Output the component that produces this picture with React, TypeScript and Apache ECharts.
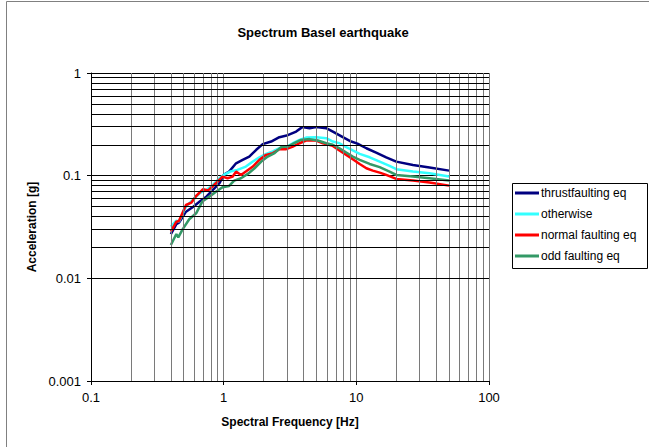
import React, { useEffect, useRef } from "react";
import * as echarts from "echarts";

const thrustFreq = [0.4, 0.44, 0.46, 0.52, 0.59, 0.66, 0.74, 0.83, 0.93, 1.0, 1.1, 1.24, 1.39, 1.56, 1.76, 1.97, 2.28, 2.63, 3.04, 3.52, 3.91, 4.44, 4.98, 5.93, 6.65, 7.91, 9.14, 10.2, 11.9, 14.1, 16.8, 20, 26.7, 35.6, 50];
const thrustAcc = [0.027, 0.0338, 0.0348, 0.0446, 0.0499, 0.0559, 0.0625, 0.0726, 0.0844, 0.1017, 0.1096, 0.132, 0.1425, 0.1536, 0.1786, 0.2027, 0.215, 0.237, 0.248, 0.269, 0.297, 0.29, 0.297, 0.29, 0.269, 0.237, 0.215, 0.205, 0.185, 0.168, 0.151, 0.137, 0.127, 0.12, 0.112];

const otherFreq = [0.4, 0.44, 0.46, 0.52, 0.59, 0.66, 0.74, 0.83, 0.93, 1.0, 1.12, 1.27, 1.47, 1.66, 1.86, 2.09, 2.35, 2.63, 2.96, 3.32, 3.73, 4.18, 4.98, 5.93, 6.65, 7.46, 8.4, 9.4, 10.6, 12.6, 15, 17.8, 20, 26.7, 35.6, 50];
const otherAcc = [0.0319, 0.0365, 0.0356, 0.05, 0.0589, 0.0674, 0.0726, 0.0813, 0.0944, 0.1017, 0.1096, 0.1138, 0.1227, 0.1374, 0.151, 0.163, 0.172, 0.185, 0.19, 0.207, 0.223, 0.235, 0.237, 0.232, 0.215, 0.207, 0.19, 0.176, 0.163, 0.151, 0.137, 0.1245, 0.1156, 0.1096, 0.1057, 0.098];

const normalFreq = [0.4, 0.44, 0.46, 0.52, 0.57, 0.62, 0.7, 0.76, 0.83, 0.9, 0.98, 1.07, 1.17, 1.24, 1.35, 1.47, 1.66, 1.86, 2.09, 2.35, 2.63, 2.96, 3.32, 3.73, 4.18, 4.98, 5.6, 6.65, 7.46, 8.4, 9.4, 10.6, 11.9, 13.3, 15, 16.8, 20, 26.7, 35.6, 50];
const normalAcc = [0.0285, 0.0356, 0.0362, 0.0518, 0.0546, 0.0634, 0.0738, 0.0716, 0.0794, 0.0875, 0.098, 0.0944, 0.098, 0.1096, 0.1017, 0.1096, 0.1227, 0.1425, 0.1595, 0.1656, 0.181, 0.181, 0.192, 0.207, 0.22, 0.22, 0.207, 0.195, 0.176, 0.1595, 0.1446, 0.13, 0.118, 0.112, 0.107, 0.1017, 0.093, 0.0896, 0.0857, 0.08];

const oddFreq = [0.4, 0.44, 0.455, 0.49, 0.55, 0.62, 0.69, 0.78, 0.88, 0.98, 1.1, 1.2, 1.35, 1.52, 1.71, 1.92, 2.15, 2.42, 2.71, 3.04, 3.41, 3.83, 4.44, 5.13, 5.93, 6.65, 7.46, 8.4, 9.4, 10.6, 12.6, 15, 17.8, 20, 26.7, 35.6, 50];
const oddAcc = [0.0211, 0.027, 0.0251, 0.03, 0.0376, 0.043, 0.0559, 0.0625, 0.07, 0.077, 0.0794, 0.0896, 0.0944, 0.104, 0.118, 0.137, 0.1536, 0.1656, 0.19, 0.192, 0.207, 0.223, 0.227, 0.22, 0.207, 0.2, 0.185, 0.168, 0.1536, 0.1425, 0.13, 0.121, 0.1096, 0.1017, 0.098, 0.0944, 0.0896];

const seriesNames = ["thrustfaulting eq", "otherwise", "normal faulting eq", "odd faulting eq"];
const seriesColors = ["#000080", "#33FFFF", "#FF0000", "#339966"];

const xMinorGrid = [0.2, 0.3, 0.4, 0.5, 0.6, 0.7, 0.8, 0.9, 2, 3, 4, 5, 6, 7, 8, 9, 20, 30, 40, 50, 60, 70, 80, 90];
const yMinorGrid = [0.002, 0.003, 0.004, 0.005, 0.006, 0.007, 0.008, 0.009, 0.02, 0.03, 0.04, 0.05, 0.06, 0.07, 0.08, 0.09, 0.2, 0.3, 0.4, 0.5, 0.6, 0.7, 0.8, 0.9];

const FONT = "Liberation Sans, Arial, sans-serif";

const pairs = (xs: number[], ys: number[]) => xs.map((x, i) => [x, ys[i]]);

const fmt = (v: number) => String(Number(Number(v).toPrecision(3)));

export default function App() {
  const ref = useRef<HTMLDivElement>(null);
  useEffect(() => {
    if (!ref.current) return;
    const chart = echarts.init(ref.current, null, { renderer: "svg" });
    const datasets = [
      pairs(thrustFreq, thrustAcc),
      pairs(otherFreq, otherAcc),
      pairs(normalFreq, normalAcc),
      pairs(oddFreq, oddAcc),
    ];
    chart.setOption({
      animation: false,
      backgroundColor: "#ffffff",
      title: {
        text: "Spectrum Basel earthquake",
        left: 318,
        textAlign: "center",
        top: 21,
        textStyle: { fontFamily: FONT, fontSize: 13, fontWeight: "bold", color: "#000" },
      },
      graphic: [
        {
          type: "rect",
          shape: { x: 6.5, y: 1.5, width: 700, height: 500 },
          style: { fill: "none", stroke: "#808080", lineWidth: 1 },
          silent: true,
          z: 0,
        },
        {
          type: "rect",
          shape: { x: 512.5, y: 183.5, width: 135, height: 85 },
          style: { fill: "#fff", stroke: "#000", lineWidth: 1 },
          silent: true,
          z: 5,
        },
      ],
      legend: {
        data: seriesNames,
        orient: "vertical",
        left: 515,
        top: 187,
        itemWidth: 24,
        itemHeight: 3,
        itemGap: 9,
        icon: "rect",
        padding: 0,
        z: 10,
        textStyle: { fontFamily: FONT, fontSize: 12, color: "#000", padding: [0, 0, 0, -3] },
      },
      grid: { left: 91, top: 73, right: 160, bottom: 66, containLabel: false },
      xAxis: {
        type: "log",
        logBase: 10,
        min: 0.1,
        max: 100,
        name: "Spectral Frequency [Hz]",
        nameLocation: "middle",
        nameGap: 35,
        nameTextStyle: { fontFamily: FONT, fontSize: 12, fontWeight: "bold", color: "#000" },
        axisLine: { lineStyle: { color: "#000", width: 1 } },
        axisTick: { show: true, length: 4, lineStyle: { color: "#000" } },
        axisLabel: { fontFamily: FONT, fontSize: 13, color: "#000", margin: 10, formatter: fmt },
        splitLine: { show: true, lineStyle: { color: "#7a7a7a", width: 1 } },
        minorTick: { show: false },
      },
      yAxis: {
        type: "log",
        logBase: 10,
        min: 0.001,
        max: 1,
        name: "Acceleration [g]",
        nameLocation: "middle",
        nameGap: 53,
        nameRotate: 90,
        nameTextStyle: { fontFamily: FONT, fontSize: 12, fontWeight: "bold", color: "#000" },
        axisLine: { show: true, lineStyle: { color: "#000", width: 1 } },
        axisTick: { show: true, length: 4, lineStyle: { color: "#000" } },
        axisLabel: { fontFamily: FONT, fontSize: 13, color: "#000", margin: 10, formatter: fmt },
        splitLine: { show: true, lineStyle: { color: "#000", width: 1 } },
      },
      series: [
        {
          name: "__grid",
          type: "line",
          data: [],
          silent: true,
          z: 1,
          markLine: {
            silent: true,
            symbol: ["none", "none"],
            label: { show: false },
            animation: false,
            data: [
              ...xMinorGrid.map((v) => ({ xAxis: v, lineStyle: { color: "#7a7a7a", width: 1, type: "solid" } })),
              ...yMinorGrid.map((v) => ({ yAxis: v, lineStyle: { color: "#000", width: 1, type: "solid" } })),
            ],
          },
        },
        ...seriesNames.map((name, i) => ({
          name,
          type: "line",
          data: datasets[i],
          showSymbol: false,
          symbol: "none",
          z: 3,
          lineStyle: { color: seriesColors[i], width: 2.5 },
          itemStyle: { color: seriesColors[i] },
        })),
      ],
    });
    return () => chart.dispose();
  }, []);
  return (
    <div
      ref={ref}
      style={{ position: "fixed", left: 0, top: 0, width: 649, height: 447 }}
    />
  );
}
